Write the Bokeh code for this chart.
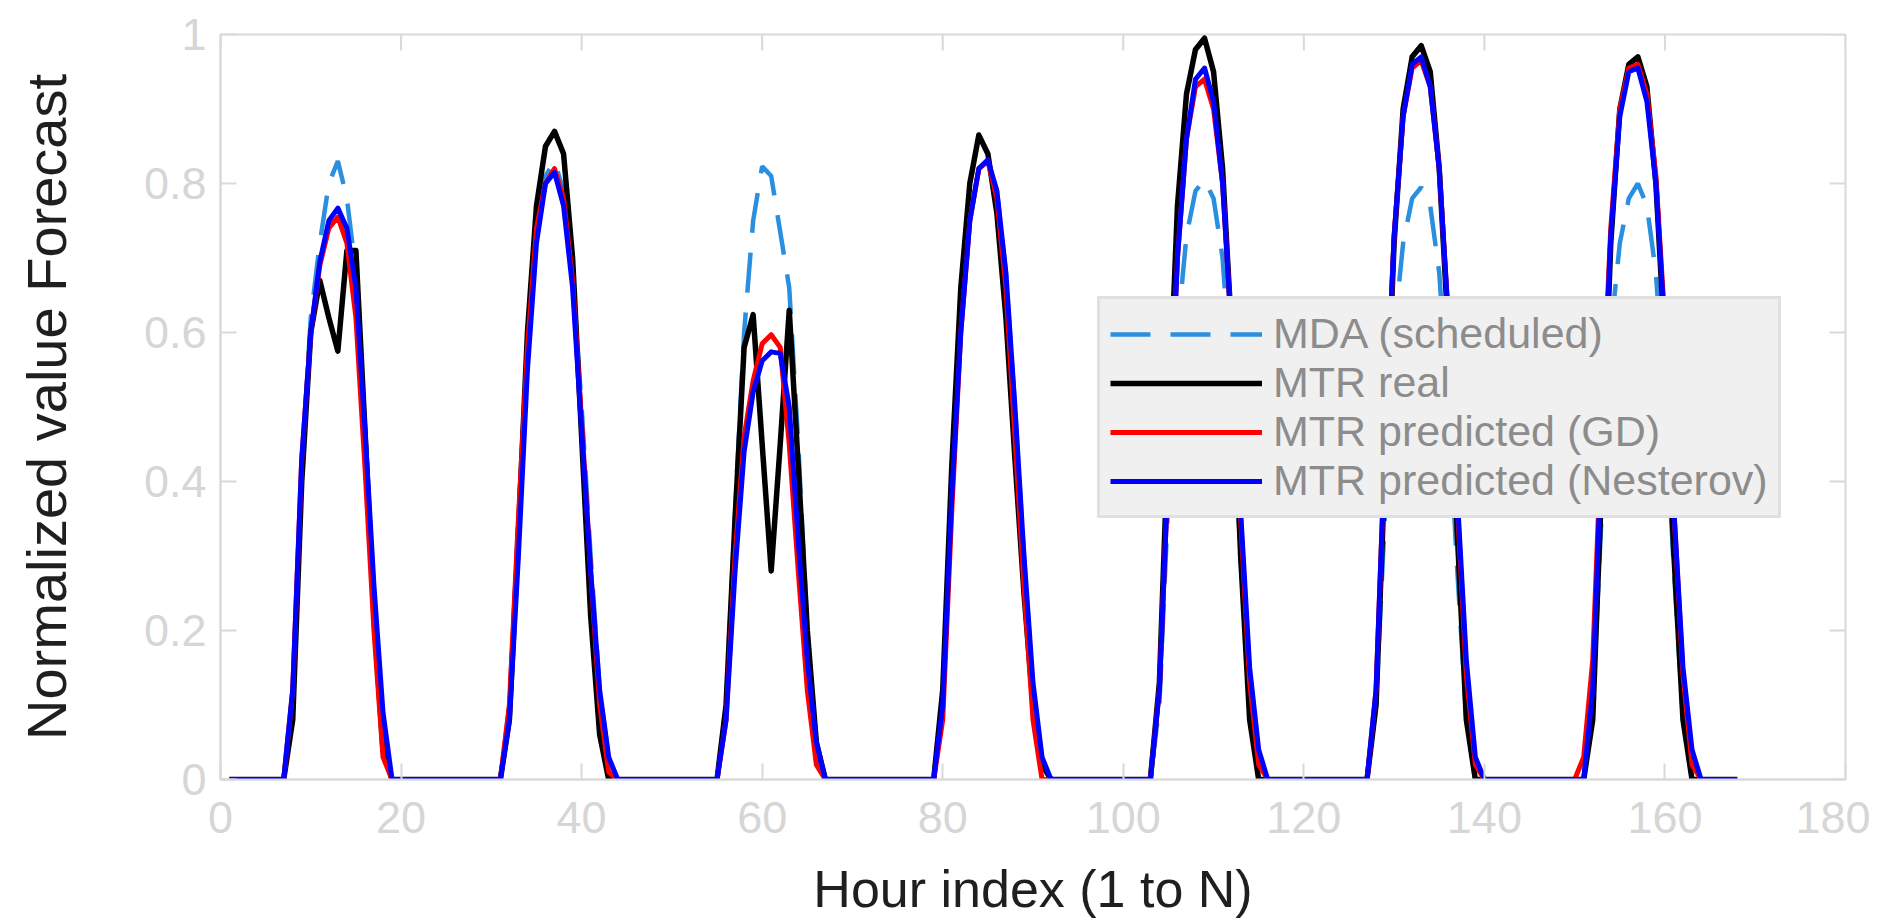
import math
from bokeh.plotting import figure
from bokeh.models import (Range1d, FixedTicker, Legend, LegendItem,
                          NumeralTickFormatter, ColumnDataSource)
from bokeh.embed import file_html
from bokeh.resources import INLINE

# ---------------- data ----------------
hours = list(range(1, 169))

mda_scheduled = [
    0,0,0,0,0,0,0,0.12,0.42,0.62,0.72,0.80,0.83,0.78,0.68,0.47,0.25,0.07,0,0,0,0,0,0,
    0,0,0,0,0,0,0,0.10,0.35,0.58,0.73,0.81,0.83,0.79,0.68,0.50,0.30,0.12,0.03,0,0,0,0,0,
    0,0,0,0,0,0,0,0.10,0.36,0.60,0.75,0.823,0.81,0.735,0.66,0.45,0.20,0.04,0,0,0,0,0,0,
    0,0,0,0,0,0,0,0.10,0.38,0.60,0.75,0.82,0.83,0.79,0.68,0.50,0.30,0.12,0.03,0,0,0,0,0,
    0,0,0,0,0,0,0,0.10,0.38,0.60,0.73,0.79,0.805,0.78,0.70,0.53,0.30,0.10,0,0,0,0,0,0,
    0,0,0,0,0,0,0,0.10,0.36,0.60,0.72,0.78,0.795,0.77,0.68,0.50,0.28,0.08,0,0,0,0,0,0,
    0,0,0,0,0,0,0,0.10,0.36,0.60,0.72,0.78,0.80,0.77,0.68,0.50,0.28,0.08,0,0,0,0,0,0,
]

mtr_real = [
    0,0,0,0,0,0,0,0.08,0.40,0.60,0.67,0.62,0.575,0.71,0.71,0.47,0.22,0.04,0,0,0,0,0,0,
    0,0,0,0,0,0,0,0.08,0.33,0.60,0.77,0.85,0.87,0.84,0.70,0.46,0.22,0.06,0,0,0,0,0,0,
    0,0,0,0,0,0,0,0.10,0.35,0.58,0.624,0.45,0.28,0.45,0.63,0.42,0.20,0.05,0,0,0,0,0,0,
    0,0,0,0,0,0,0,0.12,0.42,0.66,0.80,0.865,0.84,0.76,0.62,0.43,0.25,0.10,0.02,0,0,0,0,0,
    0,0,0,0,0,0,0,0.13,0.47,0.77,0.92,0.98,0.995,0.95,0.82,0.60,0.30,0.08,0,0,0,0,0,0,
    0,0,0,0,0,0,0,0.10,0.42,0.72,0.90,0.97,0.985,0.95,0.82,0.60,0.33,0.08,0,0,0,0,0,0,
    0,0,0,0,0,0,0,0.08,0.40,0.72,0.90,0.96,0.97,0.93,0.80,0.58,0.30,0.08,0,0,0,0,0,0,
]

mtr_gd = [
    0,0,0,0,0,0,0,0.12,0.43,0.60,0.69,0.74,0.755,0.72,0.62,0.42,0.20,0.03,0,0,0,0,0,0,
    0,0,0,0,0,0,0,0.10,0.35,0.58,0.74,0.80,0.82,0.78,0.67,0.48,0.28,0.10,0.01,0,0,0,0,0,
    0,0,0,0,0,0,0,0.08,0.30,0.46,0.535,0.585,0.597,0.58,0.45,0.28,0.12,0.02,0,0,0,0,0,0,
    0,0,0,0,0,0,0,0.08,0.36,0.60,0.75,0.82,0.83,0.78,0.66,0.46,0.26,0.08,0,0,0,0,0,0,
    0,0,0,0,0,0,0,0.12,0.42,0.70,0.86,0.93,0.94,0.90,0.80,0.60,0.35,0.13,0.02,0,0,0,0,0,
    0,0,0,0,0,0,0,0.12,0.45,0.73,0.89,0.955,0.965,0.93,0.82,0.62,0.37,0.14,0.02,0,0,0,0,0,
    0,0,0,0,0,0,0.03,0.16,0.47,0.74,0.90,0.955,0.96,0.92,0.81,0.61,0.36,0.14,0.02,0,0,0,0,0,
]

mtr_nesterov = [
    0,0,0,0,0,0,0,0.12,0.43,0.60,0.695,0.75,0.767,0.74,0.66,0.47,0.26,0.09,0,0,0,0,0,0,
    0,0,0,0,0,0,0,0.08,0.30,0.55,0.72,0.80,0.815,0.77,0.66,0.47,0.28,0.12,0.03,0,0,0,0,0,
    0,0,0,0,0,0,0,0.08,0.28,0.44,0.52,0.562,0.574,0.572,0.50,0.32,0.16,0.05,0,0,0,0,0,0,
    0,0,0,0,0,0,0,0.10,0.38,0.60,0.75,0.82,0.832,0.79,0.68,0.50,0.30,0.13,0.03,0,0,0,0,0,
    0,0,0,0,0,0,0,0.12,0.42,0.70,0.86,0.94,0.955,0.91,0.80,0.60,0.36,0.15,0.04,0,0,0,0,0,
    0,0,0,0,0,0,0,0.12,0.45,0.73,0.89,0.96,0.97,0.93,0.82,0.62,0.38,0.16,0.03,0,0,0,0,0,
    0,0,0,0,0,0,0,0.12,0.45,0.73,0.89,0.95,0.955,0.91,0.80,0.60,0.36,0.15,0.04,0,0,0,0,0,
]

series_labels = ["MDA (scheduled)", "MTR real", "MTR predicted (GD)", "MTR predicted (Nesterov)"]
x_ticks = [0, 20, 40, 60, 80, 100, 120, 140, 160, 180]
y_ticks = [0, 0.2, 0.4, 0.6, 0.8, 1.0]
x_title = "Hour index (1 to N)"
y_title = "Normalized value Forecast"

# ---------------- figure ----------------
FONT = "Liberation Sans"
FRAME = "#d9d9d9"
TICKTXT = "#d6d6d6"

p = figure(width=1870, height=920, x_range=Range1d(0, 180), y_range=Range1d(0, 1),
           output_backend="svg", toolbar_location=None,
           min_border_left=220, min_border_right=25, min_border_top=34, min_border_bottom=140)
p.grid.visible = False
p.outline_line_color = FRAME
p.outline_line_width = 2
p.background_fill_color = "white"
p.border_fill_color = "white"

src = ColumnDataSource(dict(h=hours, mda=mda_scheduled, real=mtr_real, gd=mtr_gd, nes=mtr_nesterov))

r_mda = p.line("h", "mda", source=src, line_color="#2b8fdf", line_width=4.5, line_dash="40 20")
r_real = p.line("h", "real", source=src, line_color="#000000", line_width=5.5, line_join="round")
r_gd = p.line("h", "gd", source=src, line_color="#ff0000", line_width=5, line_join="round")
r_nes = p.line("h", "nes", source=src, line_color="#0000ff", line_width=5, line_join="round")

# mirrored inward ticks on the top and right edges of the box
p.ray(x=x_ticks, y=[p.y_range.end] * len(x_ticks), length=16, length_units="screen",
      angle=-math.pi / 2, line_color=FRAME, line_width=2)
p.ray(x=[p.x_range.end] * len(y_ticks), y=y_ticks, length=16, length_units="screen",
      angle=math.pi, line_color=FRAME, line_width=2)


def style_axis(ax, ticks):
    ax.ticker = FixedTicker(ticks=ticks)
    ax.axis_line_color = FRAME
    ax.axis_line_width = 2
    ax.major_tick_line_color = FRAME
    ax.major_tick_line_width = 2
    ax.major_tick_in = 16
    ax.major_tick_out = 0
    ax.minor_tick_line_color = None
    ax.major_label_text_font = FONT
    ax.major_label_text_color = TICKTXT
    ax.major_label_text_font_size = "45px"


xa = p.xaxis[0]
ya = p.yaxis[0]
style_axis(xa, x_ticks)
style_axis(ya, y_ticks)
ya.formatter = NumeralTickFormatter(format="0.[0]")
xa.major_label_standoff = 22
ya.major_label_standoff = 14

for ax, txt, st, fs in ((xa, x_title, 24, "52px"), (ya, y_title, 63, "56px")):
    ax.axis_label = txt
    ax.axis_label_text_font = FONT
    ax.axis_label_text_font_size = fs
    ax.axis_label_text_font_style = "normal"
    ax.axis_label_text_color = "#1f1f1f"
    ax.axis_label_standoff = st

legend = Legend(items=[LegendItem(label=series_labels[0], renderers=[r_mda]),
                       LegendItem(label=series_labels[1], renderers=[r_real]),
                       LegendItem(label=series_labels[2], renderers=[r_gd]),
                       LegendItem(label=series_labels[3], renderers=[r_nes])],
                location=(877, 261))
legend.background_fill_color = "#f0f0f0"
legend.background_fill_alpha = 1
legend.border_line_color = "#d0d0d0"
legend.border_line_width = 3
legend.label_text_font = FONT
legend.label_text_font_size = "43px"
legend.label_text_color = "#8c8c8c"
legend.glyph_width = 152
legend.glyph_height = 46
legend.label_height = 46
legend.label_standoff = 11
legend.spacing = 0
legend.padding = 10
legend.margin = 0
p.add_layout(legend, "center")

open("out.html", "w").write(file_html(p, INLINE))
